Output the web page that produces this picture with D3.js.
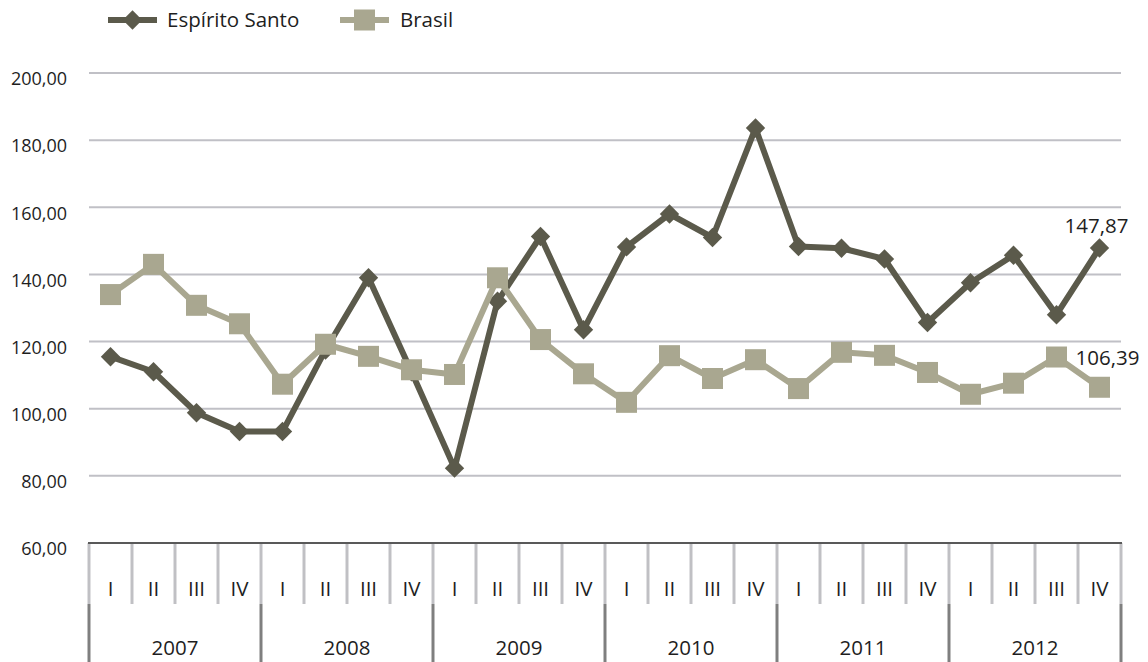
<!DOCTYPE html>
<html>
<head>
<meta charset="utf-8">
<script src="https://cdn.jsdelivr.net/npm/d3@7"></script>
<style>
  body { margin: 0; background: #fff; }
  svg { display: block; font-family: "Open Sans", sans-serif; }
</style>
</head>
<body>
<svg width="1148" height="662"></svg>
<script>
// ==== data ====
var years = ["2007", "2008", "2009", "2010", "2011", "2012"];
var quarters = ["I", "II", "III", "IV"];
var espiritoSanto = [115.5, 111.0, 98.8, 93.2, 93.2, 117.5, 139.0, 111.0,
  82.3, 132.0, 151.3, 123.5, 148.2, 158.0, 151.0, 183.6,
  148.3, 147.8, 144.6, 125.7, 137.5, 145.7, 128.0, 147.87];
var brasil = [134.0, 143.0, 130.8, 125.3, 107.3, 119.2, 115.6, 111.6,
  110.2, 139.0, 120.6, 110.4, 101.9, 115.8, 109.0, 114.6,
  106.0, 116.8, 115.9, 110.8, 104.3, 107.6, 115.4, 106.39];
var yTicks = [60, 80, 100, 120, 140, 160, 180, 200];

// ==== layout ====
var svg = d3.select("svg");
var plotLeft = 89, plotRight = 1121, plotTop = 73, plotBottom = 543;
var tickFont = 18, labelFont = 20.5;
var fmt = function (v) { return v.toFixed(2).replace(".", ","); };

var keys = [];
years.forEach(function (yr) { quarters.forEach(function (q) { keys.push(yr + "-" + q); }); });

var x = d3.scaleBand().domain(keys).range([plotLeft, plotRight]).padding(0);
var xYear = d3.scaleBand().domain(years).range([plotLeft, plotRight]).padding(0);
var y = d3.scaleLinear().domain([60, 200]).range([plotBottom, plotTop]);
var cx = function (i) { return x(keys[i]) + x.bandwidth() / 2; };

// gridlines
svg.append("g").selectAll("line")
  .data(yTicks.filter(function (t) { return t > 60; }))
  .enter().append("line")
  .attr("x1", plotLeft).attr("x2", plotRight)
  .attr("y1", function (d) { return y(d); }).attr("y2", function (d) { return y(d); })
  .attr("stroke", "#c0c0c6").attr("stroke-width", 2);

// y labels (sit a little below their gridline, as in the original)
svg.append("g").selectAll("text")
  .data(yTicks)
  .enter().append("text")
  .attr("x", 67).attr("y", function (d) { return y(d) + 6; })
  .attr("dy", "0.35em")
  .attr("text-anchor", "end")
  .attr("font-size", tickFont).attr("fill", "#1e1e1e")
  .text(fmt);

// category axis: quarter separators
var qEdges = keys.map(function (k) { return x(k); }).concat([plotRight]);
svg.append("g").selectAll("line")
  .data(qEdges)
  .enter().append("line")
  .attr("x1", function (d) { return d; }).attr("x2", function (d) { return d; })
  .attr("y1", plotBottom).attr("y2", 604)
  .attr("stroke", "#c0c0c4").attr("stroke-width", 3);

// year separators
var yEdges = years.map(function (k) { return xYear(k); }).concat([plotRight]);
svg.append("g").selectAll("line")
  .data(yEdges)
  .enter().append("line")
  .attr("x1", function (d) { return d; }).attr("x2", function (d) { return d; })
  .attr("y1", 604).attr("y2", 662)
  .attr("stroke", "#7f7f7f").attr("stroke-width", 3);

svg.append("line")
  .attr("x1", plotLeft - 1).attr("x2", plotRight + 1)
  .attr("y1", plotBottom).attr("y2", plotBottom)
  .attr("stroke", "#595959").attr("stroke-width", 2);

svg.append("g").selectAll("text")
  .data(keys)
  .enter().append("text")
  .attr("x", function (d) { return x(d) + x.bandwidth() / 2; })
  .attr("y", 589).attr("dy", "0.35em")
  .attr("text-anchor", "middle")
  .attr("font-size", labelFont).attr("fill", "#1e1e1e")
  .text(function (d) { return d.split("-")[1]; });

svg.append("g").selectAll("text")
  .data(years)
  .enter().append("text")
  .attr("x", function (d) { return xYear(d) + xYear.bandwidth() / 2; })
  .attr("y", 648).attr("dy", "0.35em")
  .attr("text-anchor", "middle")
  .attr("font-size", labelFont).attr("fill", "#1e1e1e")
  .text(function (d) { return d; });

// ==== series ====
var esColor = "#5b5a4b", brColor = "#a9a790";
var line = d3.line()
  .x(function (d, i) { return cx(i); })
  .y(function (d) { return y(d); });

var diamond = d3.symbol().type(d3.symbolDiamond2).size(240);

svg.append("path").datum(espiritoSanto)
  .attr("d", line).attr("fill", "none")
  .attr("stroke", esColor).attr("stroke-width", 6).attr("stroke-linejoin", "round");
svg.append("g").selectAll("path")
  .data(espiritoSanto)
  .enter().append("path")
  .attr("d", diamond)
  .attr("transform", function (d, i) { return "translate(" + cx(i) + "," + y(d) + ")"; })
  .attr("fill", esColor);

svg.append("path").datum(brasil)
  .attr("d", line).attr("fill", "none")
  .attr("stroke", brColor).attr("stroke-width", 6).attr("stroke-linejoin", "round");
svg.append("g").selectAll("rect")
  .data(brasil)
  .enter().append("rect")
  .attr("x", function (d, i) { return cx(i) - 10.5; })
  .attr("y", function (d) { return y(d) - 10.5; })
  .attr("width", 21).attr("height", 21)
  .attr("fill", brColor);

// last-point labels
var last = keys.length - 1;
svg.append("text")
  .attr("x", cx(last) - 3).attr("y", y(espiritoSanto[last]) - 15)
  .attr("text-anchor", "middle")
  .attr("font-size", labelFont).attr("fill", "#1e1e1e")
  .text(fmt(espiritoSanto[last]));
svg.append("text")
  .attr("x", cx(last) - 24).attr("y", y(brasil[last]) - 22)
  .attr("font-size", labelFont).attr("fill", "#1e1e1e")
  .text(fmt(brasil[last]));

// ==== legend ====
var legend = svg.append("g");
legend.append("line").attr("x1", 108).attr("x2", 157).attr("y1", 20).attr("y2", 20)
  .attr("stroke", esColor).attr("stroke-width", 6);
legend.append("path").attr("d", diamond).attr("transform", "translate(132.5,20)").attr("fill", esColor);
legend.append("text").attr("x", 167).attr("y", 20).attr("dy", "0.35em")
  .attr("font-size", labelFont).attr("fill", "#1e1e1e").text("Espírito Santo");

legend.append("line").attr("x1", 340).attr("x2", 389).attr("y1", 20).attr("y2", 20)
  .attr("stroke", brColor).attr("stroke-width", 6);
legend.append("rect").attr("x", 354).attr("y", 9.5).attr("width", 21).attr("height", 21).attr("fill", brColor);
legend.append("text").attr("x", 400).attr("y", 20).attr("dy", "0.35em")
  .attr("font-size", labelFont).attr("fill", "#1e1e1e").text("Brasil");
</script>
</body>
</html>
